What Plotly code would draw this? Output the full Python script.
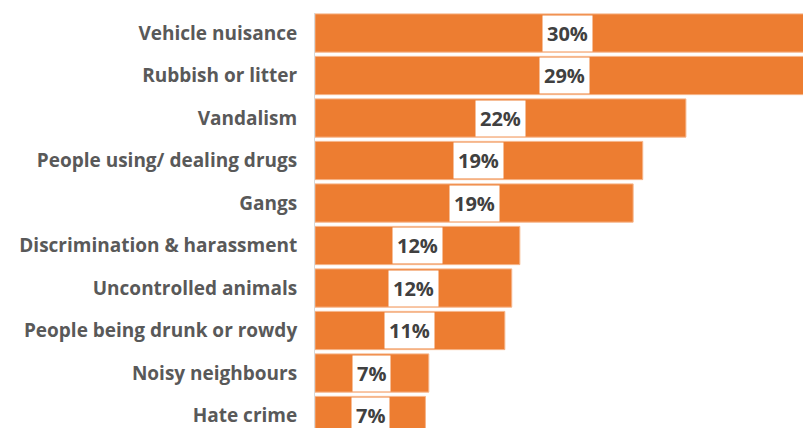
import plotly.graph_objects as go

# ─── Veri ───
categories = [
    "Vehicle nuisance",
    "Rubbish or litter",
    "Vandalism",
    "People using/ dealing drugs",
    "Gangs",
    "Discrimination & harassment",
    "Uncontrolled animals",
    "People being drunk or rowdy",
    "Noisy neighbours",
    "Hate crime",
]
values = [29.95, 29.56, 22.0, 19.44, 18.87, 12.15, 11.67, 11.26, 6.75, 6.55]
labels = ["30%", "29%", "22%", "19%", "19%", "12%", "12%", "11%", "7%", "7%"]

COLORS = {
    "bar":    "#ED7D31",
    "edge":   "#F6B58A",
    "tick":   "#595959",
    "value":  "#404040",
    "axis":   "#D9D9D9",
}
FONT = "Open Sans, sans-serif"

fig = go.Figure(go.Bar(
    x=values, y=categories, orientation="h",
    marker=dict(color=COLORS["bar"], line=dict(color=COLORS["edge"], width=1)),
    hoverinfo="skip",
))

# değer etiketleri - beyaz kutu içinde, barın ortasında
for cat, v, lab in zip(categories, values, labels):
    fig.add_annotation(
        x=v / 2, y=cat, xref="x", yref="y", text=lab,
        showarrow=False, bgcolor="white", borderpad=4,
        font=dict(family=FONT, size=20, color=COLORS["value"], weight="bold"),
    )

# sayfa gövdesi 8px kenar boşluğu bırakıyor, kenar boşlukları buna göre
fig.update_layout(
    width=803, height=420,
    margin=dict(l=307, r=0, t=5, b=0),
    paper_bgcolor="white", plot_bgcolor="white",
    bargap=0.1, showlegend=False,
    font=dict(family=FONT, color=COLORS["tick"]),
    xaxis=dict(range=[0, 29.42], visible=False, fixedrange=True),
    yaxis=dict(
        categoryorder="array", categoryarray=categories,
        range=[9.294, -0.471],
        showline=True, linecolor=COLORS["axis"], linewidth=1,
        showgrid=False, zeroline=False, ticks="",
        ticklabelstandoff=13,
        tickfont=dict(family=FONT, size=19, color=COLORS["tick"], weight="bold"),
    ),
)

fig.write_html("out.html")
